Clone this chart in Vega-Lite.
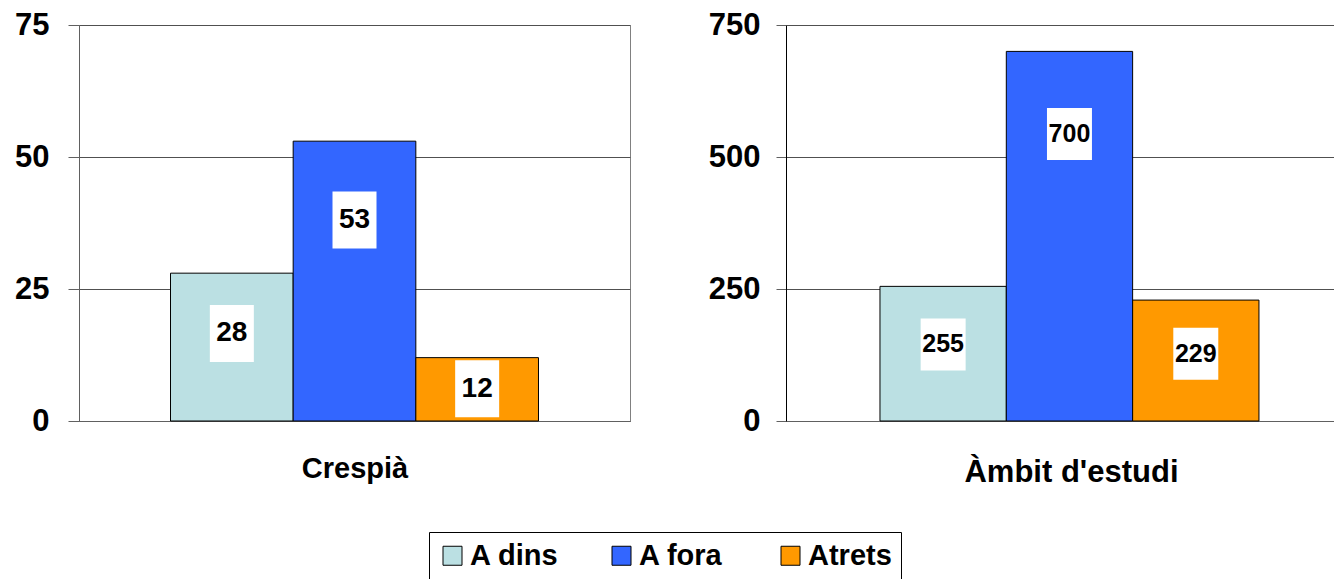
{
  "$schema": "https://vega.github.io/schema/vega-lite/v6.json",
  "background": "white",
  "padding": {"left": 14, "top": 8, "right": 0, "bottom": 0},
  "datasets": {
    "bars": [
      {"panel": "Crespià", "series": "A dins", "value": 28},
      {"panel": "Crespià", "series": "A fora", "value": 53},
      {"panel": "Crespià", "series": "Atrets", "value": 12},
      {"panel": "Àmbit d'estudi", "series": "A dins", "value": 255},
      {"panel": "Àmbit d'estudi", "series": "A fora", "value": 700},
      {"panel": "Àmbit d'estudi", "series": "Atrets", "value": 229}
    ]
  },
  "config": {
    "font": "Liberation Sans",
    "axis": {
      "labelFont": "Liberation Sans",
      "labelFontWeight": "bold",
      "labelColor": "black",
      "titleFont": "Liberation Sans",
      "titleFontWeight": "bold",
      "titleColor": "black",
      "domainColor": "#606060",
      "tickColor": "#606060",
      "gridColor": "#505050",
      "gridOpacity": 1
    },
    "legend": {
      "orient": "none",
      "direction": "horizontal",
      "legendX": 350,
      "legendY": 507,
      "symbolType": "square",
      "symbolSize": 361,
      "symbolStrokeColor": "black",
      "symbolStrokeWidth": 1,
      "symbolOpacity": 1,
      "labelFont": "Liberation Sans",
      "labelFontWeight": "bold",
      "labelFontSize": 29,
      "labelColor": "black",
      "labelOffset": 3,
      "labelLimit": 300,
      "gridAlign": "all",
      "columnPadding": 48,
      "padding": 9,
      "strokeColor": "black",
      "strokeWidth": 1,
      "fillColor": "white",
      "cornerRadius": 0,
      "title": null
    }
  },
  "spacing": 77,
  "hconcat": [
    {
      "width": 551,
      "height": 396,
      "view": {"stroke": "#808080", "strokeWidth": 1},
      "data": {"name": "bars"},
      "transform": [
        {"filter": "datum.panel === 'Crespià'"},
        {"calculate": "datum.value * (0.45 + 0.38 * datum.value / 75)", "as": "labelY"}
      ],
      "encoding": {
        "x": {
          "field": "series",
          "type": "nominal",
          "sort": ["A dins", "A fora", "Atrets"],
          "scale": {"paddingInner": 0, "paddingOuter": 0.746, "align": 0.5},
          "axis": {
            "title": "Crespià",
            "labels": false,
            "ticks": false,
            "domain": true,
            "titleFontSize": 29,
            "titlePadding": 33
          }
        }
      },
      "layer": [
        {
          "mark": {"type": "bar", "stroke": "black", "strokeWidth": 1},
          "encoding": {
            "y": {
              "field": "value",
              "type": "quantitative",
              "title": null,
              "scale": {"domain": [0, 75], "nice": false},
              "axis": {
                "values": [0, 25, 50, 75],
                "grid": true,
                "tickSize": 11,
                "labelFontSize": 31,
                "labelPadding": 19,
                "domainColor": "#606060"
              }
            },
            "color": {
              "field": "series",
              "type": "nominal",
              "sort": ["A dins", "A fora", "Atrets"],
              "scale": {"domain": ["A dins", "A fora", "Atrets"], "range": ["#BBE0E3", "#3366FF", "#FF9900"]},
              "legend": {"title": null}
            }
          }
        },
        {
          "mark": {"type": "point", "shape": "M-0.772,-1L0.772,-1L0.772,1L-0.772,1Z", "filled": true, "fill": "white", "opacity": 1, "size": 3249, "strokeWidth": 0},
          "encoding": {"y": {"field": "labelY", "type": "quantitative", "title": null}}
        },
        {
          "mark": {"type": "text", "font": "Liberation Sans", "fontSize": 28, "fontWeight": "bold", "baseline": "middle", "align": "center", "color": "black"},
          "encoding": {
            "y": {"field": "labelY", "type": "quantitative", "title": null},
            "text": {"field": "value", "type": "quantitative"}
          }
        }
      ]
    },
    {
      "width": 548,
      "height": 396,
      "view": {"stroke": null},
      "data": {"name": "bars"},
      "transform": [
        {"filter": "datum.panel !== 'Crespià'"},
        {"calculate": "datum.value * (0.45 + 0.35 * datum.value / 750)", "as": "labelY"}
      ],
      "encoding": {
        "x": {
          "field": "series",
          "type": "nominal",
          "sort": ["A dins", "A fora", "Atrets"],
          "scale": {"paddingInner": 0, "paddingOuter": 0.669, "align": 0.556},
          "axis": {
            "title": "Àmbit d'estudi",
            "labels": false,
            "ticks": false,
            "domain": true,
            "titleFontSize": 31,
            "titlePadding": 36,
            "titleX": 285,
            "titleAlign": "center"
          }
        }
      },
      "layer": [
        {
          "mark": {"type": "bar", "stroke": "black", "strokeWidth": 1},
          "encoding": {
            "y": {
              "field": "value",
              "type": "quantitative",
              "title": null,
              "scale": {"domain": [0, 750], "nice": false},
              "axis": {
                "values": [0, 250, 500, 750],
                "grid": true,
                "tickSize": 10,
                "labelFontSize": 31,
                "labelPadding": 16,
                "domainColor": "black"
              }
            },
            "color": {
              "field": "series",
              "type": "nominal",
              "sort": ["A dins", "A fora", "Atrets"],
              "scale": {"domain": ["A dins", "A fora", "Atrets"], "range": ["#BBE0E3", "#3366FF", "#FF9900"]},
              "legend": {"title": null}
            }
          }
        },
        {
          "mark": {"type": "point", "shape": "M-0.865,-1L0.865,-1L0.865,1L-0.865,1Z", "filled": true, "fill": "white", "opacity": 1, "size": 2704, "strokeWidth": 0},
          "encoding": {"y": {"field": "labelY", "type": "quantitative", "title": null}}
        },
        {
          "mark": {"type": "text", "font": "Liberation Sans", "fontSize": 25, "fontWeight": "bold", "baseline": "middle", "align": "center", "color": "black"},
          "encoding": {
            "y": {"field": "labelY", "type": "quantitative", "title": null},
            "text": {"field": "value", "type": "quantitative"}
          }
        }
      ]
    }
  ]
}
